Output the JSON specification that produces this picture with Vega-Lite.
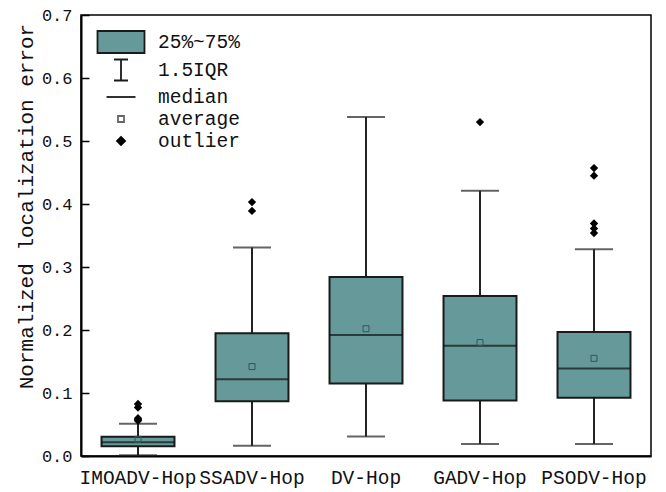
{
  "$schema": "https://vega.github.io/schema/vega-lite/v6.json",
  "width": 570,
  "height": 441,
  "autosize": {"type": "none"},
  "padding": {"left": 81, "top": 15, "right": 15, "bottom": 36},
  "background": "white",
  "config": {
    "view": {"stroke": "black", "strokeWidth": 1.5},
    "font": "Liberation Mono"
  },
  "datasets": {
    "boxes": [
      {"method": "IMOADV-Hop", "lower": 0.001, "q1": 0.0153, "median": 0.022, "q3": 0.0307, "upper": 0.051, "mean": 0.0265},
      {"method": "SSADV-Hop", "lower": 0.0164, "q1": 0.087, "median": 0.122, "q3": 0.195, "upper": 0.331, "mean": 0.142},
      {"method": "DV-Hop", "lower": 0.031, "q1": 0.115, "median": 0.192, "q3": 0.284, "upper": 0.538, "mean": 0.202},
      {"method": "GADV-Hop", "lower": 0.019, "q1": 0.088, "median": 0.175, "q3": 0.254, "upper": 0.421, "mean": 0.18},
      {"method": "PSODV-Hop", "lower": 0.019, "q1": 0.0925, "median": 0.139, "q3": 0.197, "upper": 0.328, "mean": 0.155}
    ],
    "outliers": [
      {"method": "IMOADV-Hop", "value": 0.0825},
      {"method": "IMOADV-Hop", "value": 0.077},
      {"method": "IMOADV-Hop", "value": 0.06},
      {"method": "IMOADV-Hop", "value": 0.058},
      {"method": "IMOADV-Hop", "value": 0.056},
      {"method": "SSADV-Hop", "value": 0.403},
      {"method": "SSADV-Hop", "value": 0.389},
      {"method": "GADV-Hop", "value": 0.53},
      {"method": "PSODV-Hop", "value": 0.457},
      {"method": "PSODV-Hop", "value": 0.445},
      {"method": "PSODV-Hop", "value": 0.369},
      {"method": "PSODV-Hop", "value": 0.361},
      {"method": "PSODV-Hop", "value": 0.354}
    ],
    "legend": [
      {"item": "25%~75%"},
      {"item": "1.5IQR"},
      {"item": "median"},
      {"item": "average"},
      {"item": "outlier"}
    ]
  },
  "encoding": {
    "x": {
      "field": "method",
      "type": "nominal",
      "sort": null,
      "scale": {"domain": ["IMOADV-Hop", "SSADV-Hop", "DV-Hop", "GADV-Hop", "PSODV-Hop"], "paddingInner": 0, "paddingOuter": 0},
      "axis": {
        "title": null,
        "labelAngle": 0,
        "labelFont": "Liberation Mono",
        "labelFontSize": 19.5,
        "labelColor": "#111",
        "labelPadding": 12,
        "ticks": false,
        "domainColor": "black",
        "domainWidth": 2
      }
    }
  },
  "layer": [
    {
      "data": {"name": "boxes"},
      "mark": {"type": "rule", "stroke": "#222", "strokeWidth": 2},
      "encoding": {
        "y": {
          "field": "q3",
          "type": "quantitative",
          "scale": {"domain": [0, 0.7], "nice": false, "zero": false},
          "axis": {
            "title": "Normalized localization error",
            "titleFont": "Liberation Mono",
            "titleFontSize": 21,
            "titleFontWeight": "normal",
            "titleColor": "#111",
            "titlePadding": 5,
            "titleY": 191,
            "values": [0, 0.1, 0.2, 0.3, 0.4, 0.5, 0.6, 0.7],
            "format": ".1f",
            "labelFont": "Liberation Mono",
            "labelFontSize": 17,
            "labelColor": "#111",
            "labelPadding": 17,
            "tickSize": -8,
            "tickWidth": 1.5,
            "tickColor": "black",
            "domainColor": "black",
            "domainWidth": 2,
            "grid": false
          }
        },
        "y2": {"field": "upper"}
      }
    },
    {
      "data": {"name": "boxes"},
      "mark": {"type": "rule", "stroke": "#222", "strokeWidth": 2},
      "encoding": {
        "y": {"field": "lower", "type": "quantitative"},
        "y2": {"field": "q1"}
      }
    },
    {
      "data": {"name": "boxes"},
      "mark": {"type": "tick", "color": "#222", "size": 38, "thickness": 2},
      "encoding": {"y": {"field": "upper", "type": "quantitative"}}
    },
    {
      "data": {"name": "boxes"},
      "mark": {"type": "tick", "color": "#222", "size": 38, "thickness": 2},
      "encoding": {"y": {"field": "lower", "type": "quantitative"}}
    },
    {
      "data": {"name": "boxes"},
      "mark": {"type": "bar", "fill": "#669999", "stroke": "#1a1a1a", "strokeWidth": 2, "width": {"band": 0.64}},
      "encoding": {
        "y": {"field": "q1", "type": "quantitative"},
        "y2": {"field": "q3"}
      }
    },
    {
      "data": {"name": "boxes"},
      "mark": {"type": "tick", "color": "#111", "size": 73, "thickness": 2},
      "encoding": {"y": {"field": "median", "type": "quantitative"}}
    },
    {
      "data": {"name": "boxes"},
      "mark": {"type": "point", "shape": "square", "size": 36, "filled": false, "stroke": "#355555", "strokeWidth": 1, "opacity": 1},
      "encoding": {"y": {"field": "mean", "type": "quantitative"}}
    },
    {
      "data": {"name": "outliers"},
      "mark": {"type": "point", "shape": "diamond", "size": 70, "filled": true, "color": "black", "opacity": 1},
      "encoding": {"y": {"field": "value", "type": "quantitative"}}
    },
    {
      "data": {"name": "legend"},
      "mark": {"type": "point", "opacity": 0},
      "encoding": {
        "x": {"value": 0},
        "shape": {
          "field": "item",
          "type": "nominal",
          "scale": {
            "domain": ["25%~75%", "1.5IQR", "median", "average", "outlier"],
            "range": [
              "M-2.136,-1H2.136V1H-2.136Z",
              "M-0.636,-0.955H0.636M0,-0.955V0.955M-0.636,0.955H0.636",
              "M-1.318,0H1.318",
              "M-0.273,-0.273H0.273V0.273H-0.273Z",
              "M0,-0.364L0.364,0L0,0.364L-0.364,0Z"
            ]
          },
          "legend": {
            "title": null,
            "orient": "none",
            "legendX": 28,
            "legendY": 15,
            "symbolSize": 484,
            "symbolOpacity": 1,
            "symbolStrokeWidth": 1.8,
            "labelFont": "Liberation Mono",
            "labelFontSize": 19.5,
            "labelColor": "#111",
            "labelOffset": 25,
            "labelLimit": 300,
            "rowPadding": -2,
            "padding": 0
          }
        },
        "fill": {
          "field": "item",
          "type": "nominal",
          "scale": {
            "domain": ["25%~75%", "1.5IQR", "median", "average", "outlier"],
            "range": ["#669999", "transparent", "transparent", "white", "black"]
          },
          "legend": null
        },
        "stroke": {
          "field": "item",
          "type": "nominal",
          "scale": {
            "domain": ["25%~75%", "1.5IQR", "median", "average", "outlier"],
            "range": ["#1a1a1a", "#1a1a1a", "#1a1a1a", "#666", "black"]
          },
          "legend": null
        }
      }
    }
  ]
}
